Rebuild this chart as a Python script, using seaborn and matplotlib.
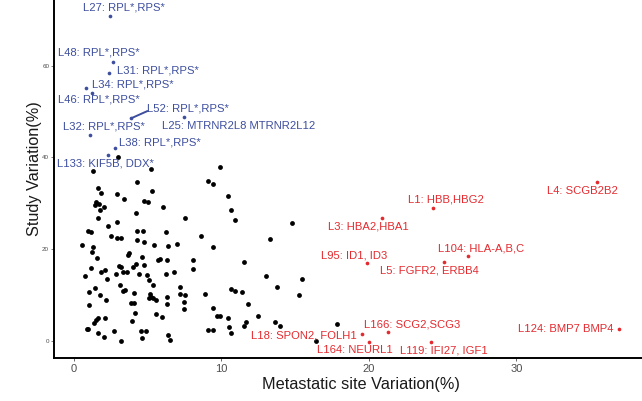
import matplotlib
matplotlib.use("Agg")
import matplotlib.pyplot as plt
import seaborn as sns
import pandas as pd

# ---------------- data ----------------
black_x = [3.00, 1.31, 5.22, 4.29, 1.61, 1.85, 2.89, 5.31, 3.41, 4.75, 5.00, 1.47, 1.72, 2.03, 1.40, 1.74,
           6.03, 4.20, 7.53, 1.61, 2.94, 2.33, 0.97, 1.13, 4.29, 4.66, 6.26, 2.51, 2.89, 3.19, 4.29, 4.77,
           5.44, 6.35, 7.00, 0.52, 1.31,
           1.24, 1.58, 3.75, 3.64, 4.59, 5.81, 5.69, 6.28, 1.15, 0.77, 1.85, 2.12, 2.22, 2.83, 3.03, 3.21,
           3.30, 3.57, 3.98, 4.20, 4.75, 4.39, 4.93, 5.06, 5.36, 6.22, 6.80, 3.14, 1.40, 1.02, 3.32, 3.44,
           4.07, 1.78, 2.15, 5.15, 5.24, 5.11, 5.36, 5.58, 6.28, 7.21, 7.21, 7.55, 7.47, 1.00, 3.88, 4.07,
           6.28, 7.47, 4.12, 5.58, 5.97, 3.91, 2.10, 1.61, 1.47, 1.38, 0.86, 0.95, 1.61, 2.05, 2.71, 3.17,
           4.56, 4.86, 4.61, 6.39, 6.51,
           9.88, 9.06, 9.42, 10.42, 10.64, 10.94, 14.76, 8.61, 13.29, 9.40, 8.05, 8.05, 11.53, 13.0, 15.48,
           13.78, 15.25, 8.90, 10.62, 10.94, 11.37, 11.80, 9.42, 9.69, 9.92, 12.47, 10.44, 11.66, 11.53,
           13.65, 13.99, 9.11, 9.44, 10.51, 10.64, 17.81, 16.43]
black_y = [40.0, 37.1, 37.5, 34.6, 33.4, 32.3, 32.1, 32.7, 30.9, 30.5, 30.3, 30.4, 29.8, 29.3, 29.7, 28.5,
           29.2, 28.0, 26.8, 26.9, 26.0, 25.0, 24.0, 23.8, 24.1, 24.0, 23.9, 23.0, 22.5, 22.4, 22.0, 21.6,
           21.0, 20.8, 21.3, 21.0, 20.6,
           19.5, 18.1, 19.2, 18.7, 18.4, 17.9, 17.7, 17.7, 16.0, 14.2, 15.2, 15.5, 13.5, 14.7, 16.4, 16.3,
           15.1, 15.1, 16.1, 16.8, 16.6, 14.6, 14.5, 13.4, 12.3, 14.7, 15.2, 12.3, 11.7, 10.7, 10.9, 11.1,
           10.6, 10.0, 9.0, 10.3, 9.7, 9.4, 9.5, 9.0, 9.7, 11.8, 10.3, 10.1, 8.5, 8.0, 8.4, 8.4,
           8.2, 7.1, 6.3, 6.0, 5.4, 4.5, 5.1, 5.0, 4.7, 4.0, 2.7, 2.7, 1.9, 0.9, 2.2, 0.0,
           2.3, 2.3, 0.7, 1.5, 0.4,
           38.0, 34.8, 34.2, 31.6, 28.5, 26.4, 25.8, 23.0, 22.2, 20.5, 17.7, 15.8, 17.3, 14.3, 13.5,
           11.8, 10.2, 10.4, 11.4, 11.0, 10.8, 8.2, 7.2, 5.6, 5.6, 5.5, 5.2, 4.2, 3.3,
           4.3, 3.4, 2.4, 2.4, 3.1, 1.8, 3.7, 0.0]

blue_labels = ["L27: RPL*,RPS*", "L48: RPL*,RPS*", "L31: RPL*,RPS*", "L34: RPL*,RPS*",
               "L46: RPL*,RPS*", "L52: RPL*,RPS*", "L25: MTRNR2L8 MTRNR2L12", "L32: RPL*,RPS*",
               "L38: RPL*,RPS*", "L133: KIF5B, DDX*"]
blue_x = [2.44, 2.62, 2.35, 1.20, 0.83, 3.86, 7.48, 1.08, 2.76, 2.33]
blue_y = [70.8, 60.8, 58.4, 54.0, 55.0, 48.5, 48.7, 44.8, 42.1, 40.5]

red_labels = ["L4: SCGB2B2", "L1: HBB,HBG2", "L3: HBA2,HBA1", "L95: ID1, ID3", "L104: HLA-A,B,C",
              "L5: FGFR2, ERBB4", "L124: BMP7 BMP4", "L166: SCG2,SCG3", "L18: SPON2, FOLH1",
              "L164: NEURL1", "L119: IFI27, IGF1"]
red_x = [35.43, 24.32, 20.86, 19.89, 26.73, 25.08, 36.93, 21.31, 19.55, 20.02, 24.20]
red_y = [34.6, 29.1, 26.8, 17.1, 18.6, 17.3, 2.8, 2.07, 1.63, -0.17, -0.04]

# label anchor positions (left edge, vertical centre), data units
blue_lab_x = [0.59, -1.08, 2.89, 1.22, -1.08, 4.93, 5.95, -0.73, 3.05, -1.13]
blue_lab_y = [72.65, 62.8, 59.0, 55.8, 52.5, 50.7, 46.8, 46.7, 43.2, 38.6]
red_lab_x = [32.05, 22.64, 17.2, 16.73, 24.7, 20.75, 30.12, 19.66, 11.98, 16.45, 22.1]
red_lab_y = [32.7, 30.9, 25.1, 18.8, 20.3, 15.4, 2.8, 3.8, 1.4, -1.85, -2.0]

x_ticks = [0, 10, 20, 30]
y_ticks = [0, 20, 40, 60]

BLUE = "#3D4E9F"
RED = "#E32A2F"

# ---------------- plot ----------------
sns.set_theme(style="white")
plt.rcParams["font.family"] = ["Liberation Sans", "DejaVu Sans"]

fig = plt.figure(figsize=(6.42, 4.01), dpi=100)
W, H = 642, 401
ax = fig.add_axes([54 / W, (H - 358) / H, (W - 54) / W, 358 / H])

df_black = pd.DataFrame({"x": black_x, "y": black_y})
df_blue = pd.DataFrame({"x": blue_x, "y": blue_y, "lab": blue_labels})
df_red = pd.DataFrame({"x": red_x, "y": red_y, "lab": red_labels})

sns.scatterplot(data=df_black, x="x", y="y", color="black", s=12, linewidth=0, ax=ax, zorder=3)
sns.scatterplot(data=df_blue, x="x", y="y", color=BLUE, s=7, linewidth=0, ax=ax, zorder=3)
sns.scatterplot(data=df_red, x="x", y="y", color=RED, s=7, linewidth=0, ax=ax, zorder=3)

for lab, lx, ly, px, py in zip(blue_labels, blue_lab_x, blue_lab_y, blue_x, blue_y):
    ax.text(lx, ly, lab, color=BLUE, fontsize=8.1, ha="left", va="center", zorder=4)
    if lab.startswith("L52"):
        ax.annotate("", xy=(px, py), xytext=(lx + 0.05, ly - 0.6),
                    arrowprops=dict(arrowstyle="-", color=BLUE, lw=1.4,
                                    shrinkA=0, shrinkB=0))
for lab, lx, ly in zip(red_labels, red_lab_x, red_lab_y):
    ax.text(lx, ly, lab, color=RED, fontsize=8.1, ha="left", va="center", zorder=4)

ax.set_xlim(-1.356, 38.51)
ax.set_ylim(-3.59, 74.24)
ax.set_xticks(x_ticks)
ax.set_yticks(y_ticks)
ax.tick_params(axis="x", labelsize=8, colors="#4D4D4D", length=2.5, width=0.6, pad=2)
ax.tick_params(axis="y", labelsize=4.5, colors="#4D4D4D", length=2, width=0.5, pad=1.5)
ax.tick_params(left=True, bottom=True)

for side in ["top", "right"]:
    ax.spines[side].set_visible(False)
for side in ["left", "bottom"]:
    ax.spines[side].set_color("black")
    ax.spines[side].set_linewidth(1.4)

ax.set_xlabel("Metastatic site Variation(%)", fontsize=11.7, color="#1a1a1a")
ax.set_ylabel("Study Variation(%)", fontsize=11.7, color="#1a1a1a")
ax.xaxis.set_label_coords((361 - 54) / 588, -0.053)
ax.yaxis.set_label_coords(-0.020, 0.529)

fig.savefig("out.png", dpi=100)
